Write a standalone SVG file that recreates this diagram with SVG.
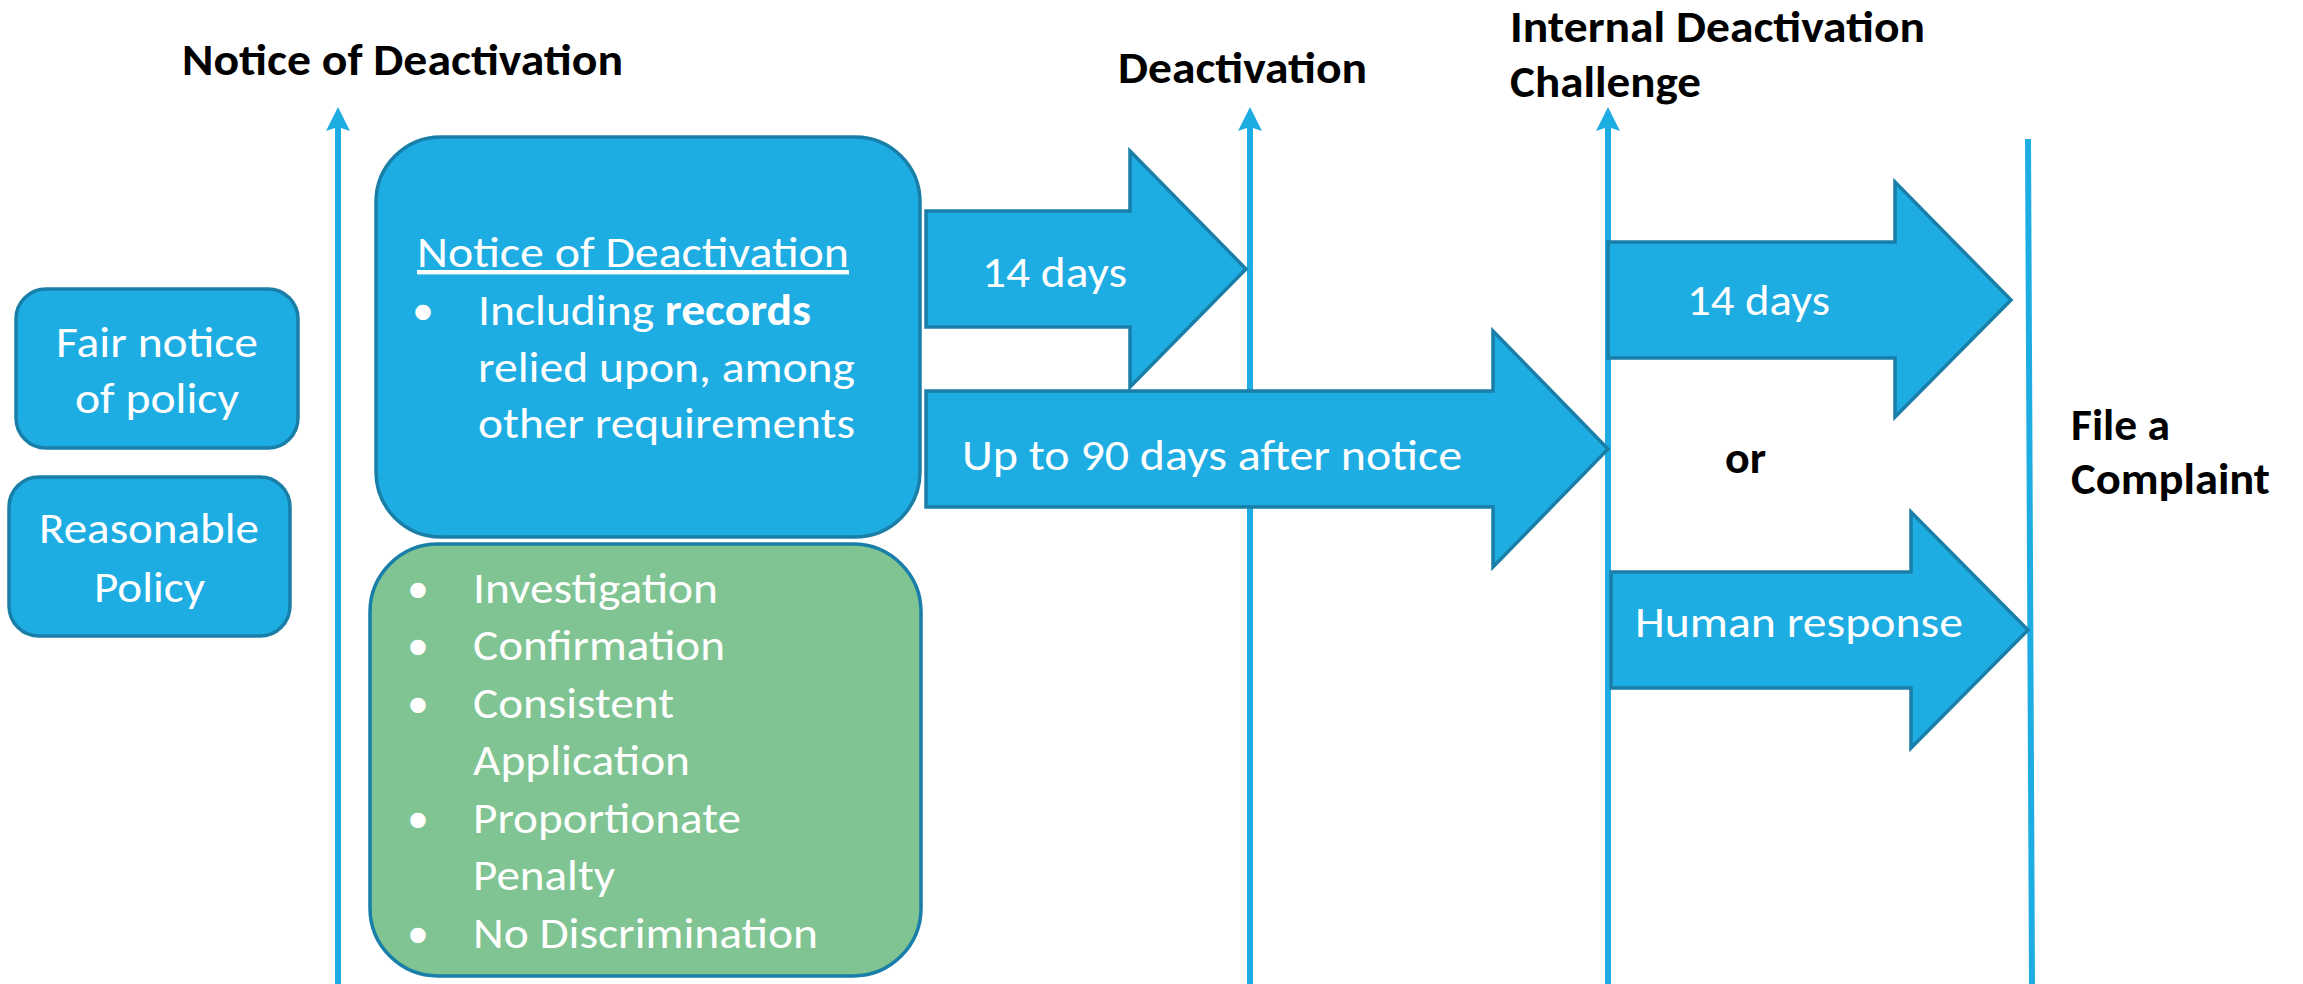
<svg xmlns="http://www.w3.org/2000/svg" width="2303" height="984" viewBox="0 0 2303 984">
<defs>
<style>
.lbl{font-family:Carlito,Lato,"Liberation Sans",sans-serif;font-size:44px;font-weight:bold;fill:#000}
.wt{font-family:Carlito,Lato,"Liberation Sans",sans-serif;font-size:44px;fill:#fff}
.b{font-weight:bold}
.box{fill:#1EADE3;stroke:#197FA8;stroke-width:3.5}
.gbox{fill:#80C493;stroke:#197FA8;stroke-width:3.5}
.arr{fill:#1EADE3;stroke:#197FA8;stroke-width:3.5;stroke-linejoin:miter}
.vl{stroke:#1EADE3;stroke-width:6;fill:none}
</style>
<marker id="vhead" markerUnits="userSpaceOnUse" markerWidth="24" markerHeight="24" viewBox="0 0 24 24" refX="6" refY="12" orient="auto">
<path d="M0,0 L24,12 L0,24 L4,12 z" fill="#1EADE3"/>
</marker>
</defs>
<rect width="2303" height="984" fill="#fff"/>

<g id="connectors">
<line class="vl" x1="338" y1="984" x2="338" y2="125" marker-end="url(#vhead)"/>
<line class="vl" x1="1250" y1="984" x2="1250" y2="125" marker-end="url(#vhead)"/>
<line class="vl" x1="1608" y1="984" x2="1608" y2="125" marker-end="url(#vhead)"/>
<line class="vl" x1="2028" y1="139" x2="2032" y2="984"/>
</g>

<g id="label-notice">
<text class="lbl" x="182" y="75" textLength="441" lengthAdjust="spacingAndGlyphs">Notice of Deactivation</text>
</g>
<g id="label-deactivation">
<text class="lbl" x="1118" y="83" textLength="249" lengthAdjust="spacingAndGlyphs">Deactivation</text>
</g>
<g id="label-internal">
<text class="lbl" x="1510" y="42" textLength="415" lengthAdjust="spacingAndGlyphs">Internal Deactivation</text>
<text class="lbl" x="1510" y="97" textLength="191" lengthAdjust="spacingAndGlyphs">Challenge</text>
</g>
<g id="label-or">
<text class="lbl" x="1725" y="473" textLength="41" lengthAdjust="spacingAndGlyphs">or</text>
</g>
<g id="label-complaint">
<text class="lbl" x="2071" y="440" textLength="99" lengthAdjust="spacingAndGlyphs">File a</text>
<text class="lbl" x="2071" y="494" textLength="199" lengthAdjust="spacingAndGlyphs">Complaint</text>
</g>

<g id="fair-notice">
<rect class="box" x="16" y="289" width="282" height="159" rx="30" ry="30"/>
<text class="wt" x="56" y="357" textLength="202" lengthAdjust="spacingAndGlyphs">Fair notice</text>
<text class="wt" x="75" y="413" textLength="164" lengthAdjust="spacingAndGlyphs">of policy</text>
</g>

<g id="reasonable-policy">
<rect class="box" x="9" y="477" width="281" height="159" rx="30" ry="30"/>
<text class="wt" x="39" y="543" textLength="220" lengthAdjust="spacingAndGlyphs">Reasonable</text>
<text class="wt" x="94" y="602" textLength="111" lengthAdjust="spacingAndGlyphs">Policy</text>
</g>

<g id="notice-box">
<rect class="box" x="376" y="137" width="544" height="400" rx="65" ry="65"/>
<text class="wt" x="417" y="267" textLength="432" lengthAdjust="spacingAndGlyphs" text-decoration="underline">Notice of Deactivation</text>
<text class="wt" x="423" y="325" text-anchor="middle">•</text>
<text class="wt" x="478" y="325" textLength="333" lengthAdjust="spacingAndGlyphs">Including <tspan class="b">records</tspan></text>
<text class="wt" x="478" y="382" textLength="377" lengthAdjust="spacingAndGlyphs">relied upon, among</text>
<text class="wt" x="478" y="438" textLength="377" lengthAdjust="spacingAndGlyphs">other requirements</text>
</g>

<g id="requirements-box">
<rect class="gbox" x="370" y="544" width="551" height="432" rx="68" ry="68"/>
<text class="wt" x="418" y="603" text-anchor="middle">•</text>
<text class="wt" x="473" y="603" textLength="245" lengthAdjust="spacingAndGlyphs">Investigation</text>
<text class="wt" x="418" y="660" text-anchor="middle">•</text>
<text class="wt" x="473" y="660" textLength="252" lengthAdjust="spacingAndGlyphs">Confirmation</text>
<text class="wt" x="418" y="718" text-anchor="middle">•</text>
<text class="wt" x="473" y="718" textLength="201" lengthAdjust="spacingAndGlyphs">Consistent</text>
<text class="wt" x="473" y="775" textLength="217" lengthAdjust="spacingAndGlyphs">Application</text>
<text class="wt" x="418" y="833" text-anchor="middle">•</text>
<text class="wt" x="473" y="833" textLength="268" lengthAdjust="spacingAndGlyphs">Proportionate</text>
<text class="wt" x="473" y="890" textLength="142" lengthAdjust="spacingAndGlyphs">Penalty</text>
<text class="wt" x="418" y="948" text-anchor="middle">•</text>
<text class="wt" x="473" y="948" textLength="345" lengthAdjust="spacingAndGlyphs">No Discrimination</text>
</g>

<g id="arrow-14days-a">
<polygon class="arr" points="926,211 1130,211 1130,151 1246,269 1130,387 1130,327 926,327"/>
<text class="wt" x="982" y="287" textLength="145" lengthAdjust="spacingAndGlyphs">14 days</text>
</g>

<g id="arrow-90days">
<polygon class="arr" points="926,391 1493,391 1493,331 1608,449 1493,567 1493,507 926,507"/>
<text class="wt" x="962" y="470" textLength="500" lengthAdjust="spacingAndGlyphs">Up to 90 days after notice</text>
</g>

<g id="arrow-14days-b">
<polygon class="arr" points="1608,242 1895,242 1895,182 2011,300 1895,417 1895,358 1608,358"/>
<text class="wt" x="1687" y="315" textLength="143" lengthAdjust="spacingAndGlyphs">14 days</text>
</g>

<g id="arrow-human">
<polygon class="arr" points="1611,572 1911,572 1911,512 2028,630 1911,748 1911,688 1611,688"/>
<text class="wt" x="1635" y="637" textLength="328" lengthAdjust="spacingAndGlyphs">Human response</text>
</g>
</svg>
